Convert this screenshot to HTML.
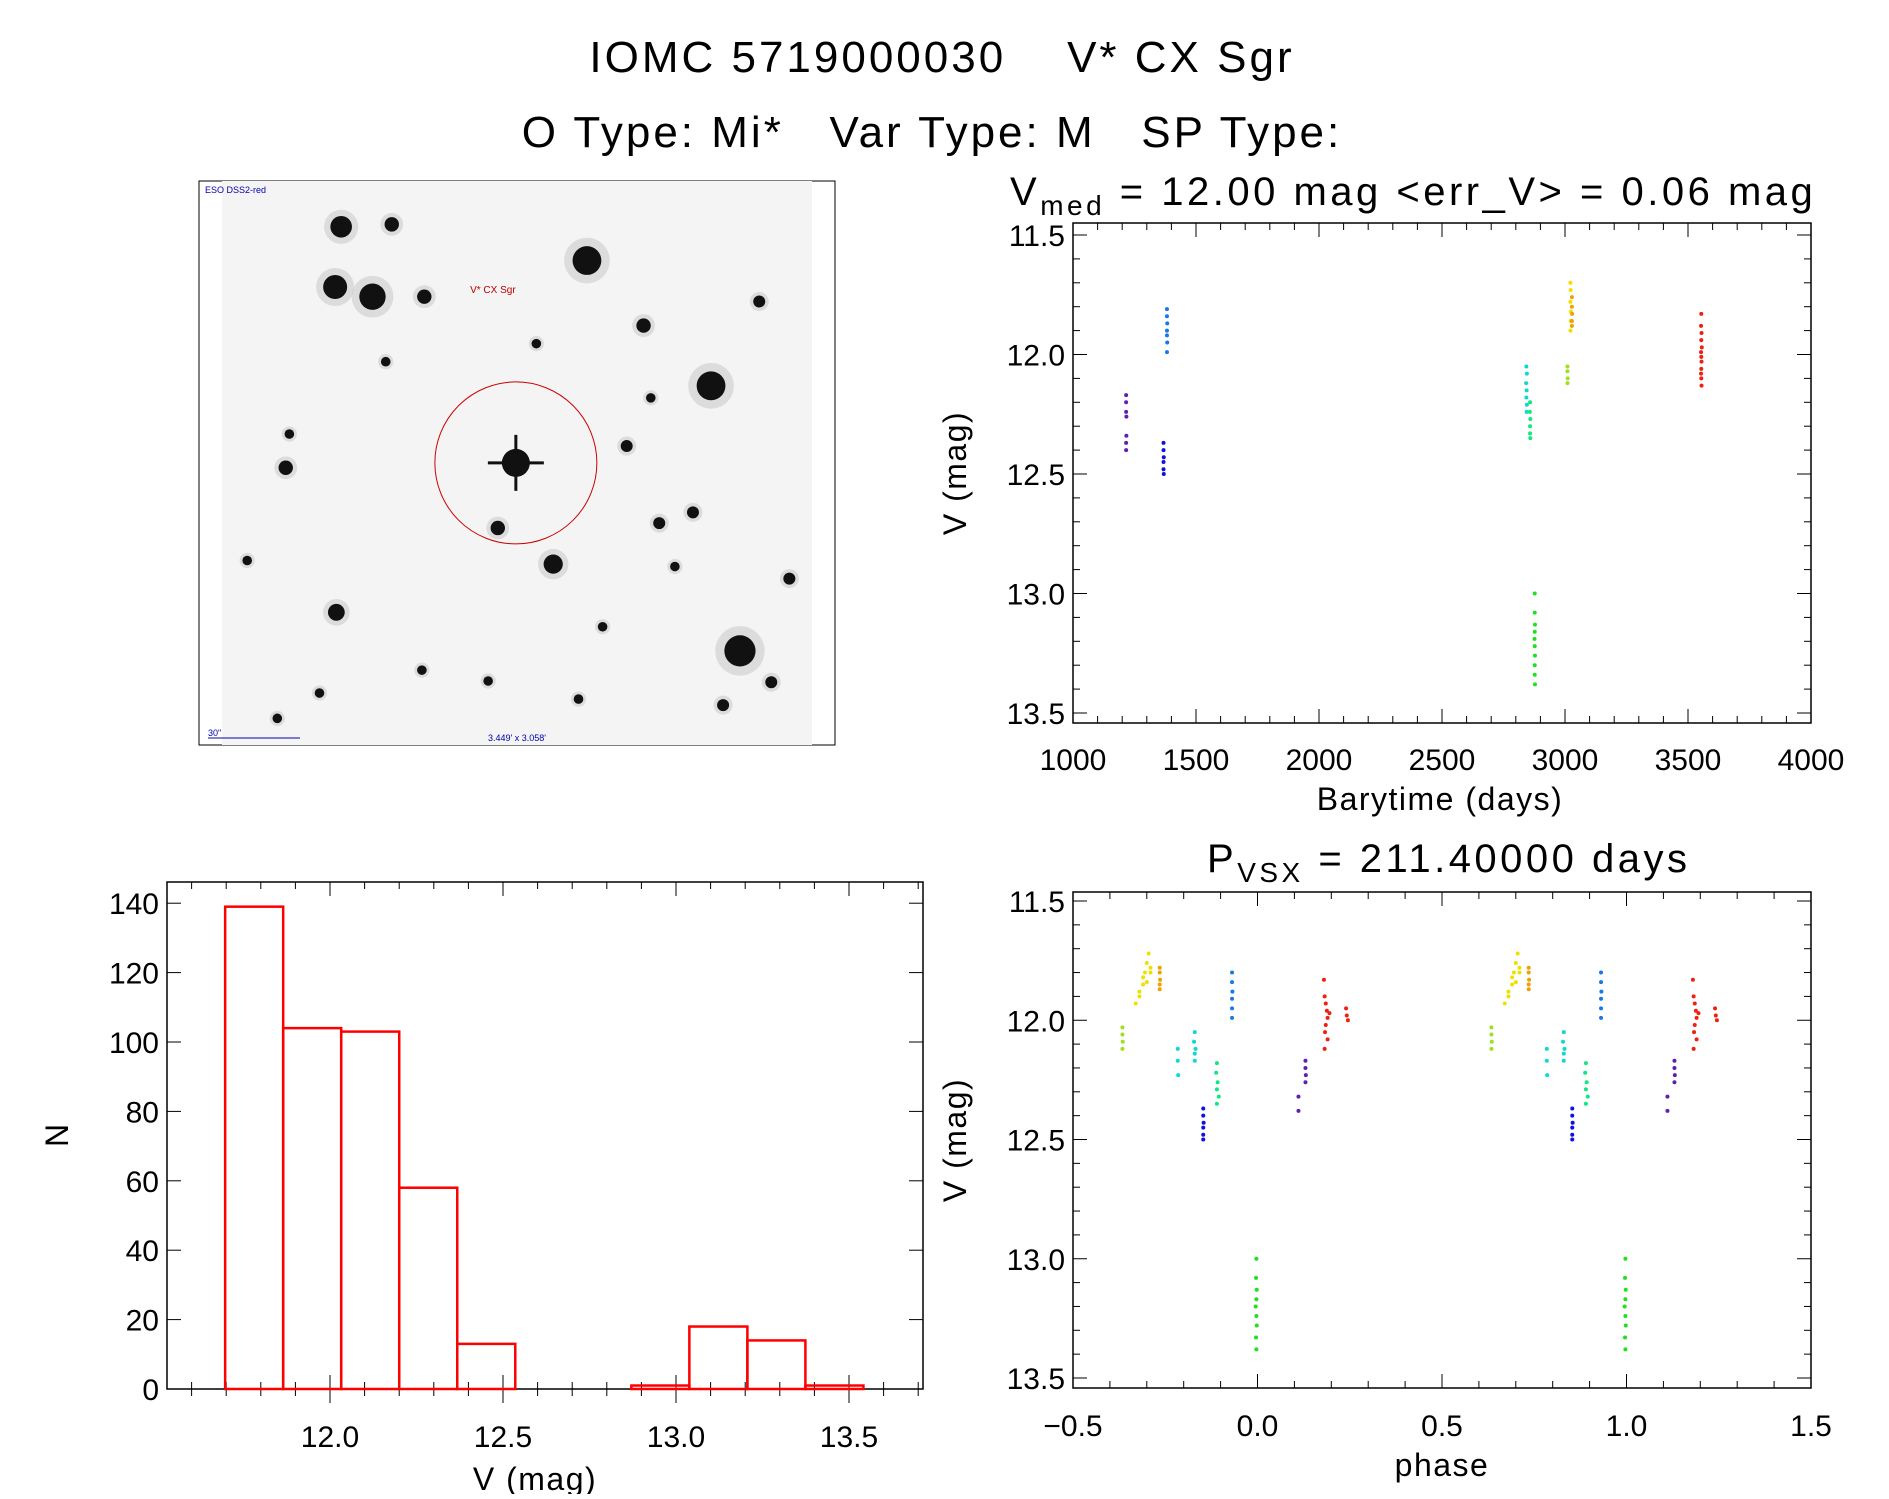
<!DOCTYPE html>
<html><head><meta charset="utf-8"><style>
body{margin:0;background:#fff;}
svg text{font-family:"Liberation Sans",sans-serif;fill:#000;white-space:pre;}
</style></head><body>
<svg id="s" width="1889" height="1494" viewBox="0 0 1889 1494" xmlns="http://www.w3.org/2000/svg">
<text x="942" y="72" font-size="44" text-anchor="middle" letter-spacing="3">IOMC 5719000030    V* CX Sgr</text>
<text x="932" y="147" font-size="44" text-anchor="middle" letter-spacing="3">O Type: Mi*   Var Type: M   SP Type:</text>
<g id="img">
<rect x="199" y="181" width="636" height="564" fill="#fff" stroke="#000" stroke-width="1"/>
<rect x="222" y="181" width="590" height="564" fill="#f4f4f4"/>
</g>
<text x="1010" y="205" font-size="40" letter-spacing="3.5">V<tspan font-size="28" dy="10">med</tspan><tspan dy="-10"> = 12.00 mag &lt;err_V&gt; = 0.06 mag</tspan></text>
<text x="1207" y="872" font-size="40" letter-spacing="3.5">P<tspan font-size="28" dy="10">VSX</tspan><tspan dy="-10"> = 211.40000 days</tspan></text>
<g id="g1"></g><g id="g2"></g><g id="g3"></g>
</svg>
<script>
const NS="http://www.w3.org/2000/svg";
function mk(p,tag,a,txt){const e=document.createElementNS(NS,tag);for(const k in a)e.setAttribute(k,a[k]);if(txt!==undefined)e.textContent=txt;p.appendChild(e);return e;}
const img=document.getElementById('img');
const stars=[[283,188,9],[325,186,6],[278,238,10],[309,246,11],[352,246,6],[487,216,12],[590,320,12],[534,270,6],[459,468,8],[413,438,6],[237,388,6],[279,508,7],[614,540,13],[640,566,5],[547,434,5],[575,425,5],[265,575,4],[350,556,4],[405,565,4],[230,596,4],[520,370,5],[540,330,4],[445,285,4],[630,250,5],[600,585,5],[205,465,4],[320,300,4],[240,360,4],[500,520,4],[480,580,4],[560,470,4],[655,480,5]];
const sx=v=>199+(v-165)*1.2048, sy=v=>181+(v-150)*1.2048;
for(const s of stars){
 mk(img,'circle',{cx:sx(s[0]),cy:sy(s[1]),r:s[2]*1.9,fill:'#ccc',opacity:0.6});
 const c=mk(img,'circle',{cx:sx(s[0]),cy:sy(s[1]),r:s[2]*1.2,fill:'#111'});
 
 }
const tg=mk(img,'circle',{cx:sx(428),cy:sy(384),r:14,fill:'#111'});


mk(img,'path',{d:`M${sx(428)-28} ${sy(384)}h56M${sx(428)} ${sy(384)-28}v56`,stroke:'#111','stroke-width':3});
const ap=mk(img,'circle',{cx:sx(428),cy:sy(384),r:81,fill:'none',stroke:'#c00','stroke-width':1});


mk(img,'text',{x:sx(390),y:sy(243),'font-size':10,style:'fill:#b00'},'V* CX Sgr');
mk(img,'text',{x:205,y:193,'font-size':9,style:'fill:#00a'},'ESO DSS2-red');
mk(img,'path',{d:'M208 738h92',stroke:'#00a'});
mk(img,'text',{x:208,y:736,'font-size':9,style:'fill:#00a'},'30"');
mk(img,'text',{x:488,y:741,'font-size':9,style:'fill:#00a'},'3.449\' x 3.058\'');

const lcGroups=[
 {c:'#6020b0',t:[1216,1216,1216,1217,1217,1216,1216],m:[12.17,12.2,12.24,12.26,12.34,12.37,12.4]},
 {c:'#1878e8',t:[1382,1382,1383,1382,1382,1383,1382],m:[11.81,11.84,11.87,11.9,11.92,11.95,11.99]},
 {c:'#1010e0',t:[1368,1368,1369,1368,1368,1369],m:[12.37,12.4,12.43,12.45,12.48,12.5]},
 {c:'#10d8d0',t:[2843,2845,2842,2844,2843,2845,2844],m:[12.05,12.08,12.12,12.15,12.18,12.21,12.24]},
 {c:'#10e880',t:[2858,2857,2859,2858,2858,2859],m:[12.2,12.24,12.27,12.3,12.33,12.35]},
 {c:'#20e020',t:[2877,2877,2878,2877,2876,2877,2878,2877,2877,2878],m:[13.0,13.08,13.13,13.16,13.19,13.22,13.26,13.3,13.34,13.38]},
 {c:'#a0e020',t:[3010,3010,3011,3010],m:[12.05,12.07,12.1,12.12]},
 {c:'#f0e000',t:[3022,3023,3022,3024,3023,3022],m:[11.7,11.73,11.78,11.82,11.86,11.9]},
 {c:'#f0a000',t:[3028,3028,3029,3028,3028],m:[11.76,11.8,11.83,11.86,11.88]},
 {c:'#f02010',t:[3554,3553,3555,3554,3556,3553,3554,3555,3554,3553,3554,3555],m:[11.83,11.88,11.91,11.94,11.97,11.99,12.01,12.03,12.06,12.08,12.1,12.13]}
];
const phGroups=[
 {c:'#a0e020',p:[-0.366,-0.366,-0.365,-0.366],m:[12.03,12.06,12.09,12.12]},
 {c:'#f0e000',p:[-0.33,-0.32,-0.31,-0.305,-0.3,-0.295,-0.29,-0.31,-0.32,-0.3,-0.29],m:[11.93,11.88,11.85,11.8,11.76,11.72,11.78,11.82,11.9,11.84,11.8]},
 {c:'#f0a000',p:[-0.265,-0.265,-0.264,-0.265,-0.265],m:[11.78,11.8,11.83,11.85,11.87]},
 {c:'#10d8d0',p:[-0.216,-0.216,-0.215,-0.17,-0.172,-0.168,-0.17,-0.17],m:[12.12,12.17,12.23,12.05,12.09,12.12,12.14,12.17]},
 {c:'#10e880',p:[-0.11,-0.112,-0.108,-0.11,-0.105,-0.11],m:[12.18,12.22,12.26,12.29,12.32,12.35]},
 {c:'#1010e0',p:[-0.147,-0.147,-0.146,-0.147,-0.147,-0.147],m:[12.37,12.4,12.43,12.45,12.48,12.5]},
 {c:'#1878e8',p:[-0.069,-0.069,-0.068,-0.069,-0.069,-0.069],m:[11.8,11.84,11.88,11.91,11.95,11.99]},
 {c:'#20e020',p:[-0.003,-0.004,-0.002,-0.003,-0.005,-0.003,-0.002,-0.004,-0.003],m:[13.0,13.08,13.13,13.17,13.2,13.24,13.28,13.33,13.38]},
 {c:'#6020b0',p:[0.111,0.111,0.13,0.13,0.131,0.13],m:[12.32,12.38,12.17,12.2,12.23,12.26]},
 {c:'#f02010',p:[0.18,0.182,0.185,0.188,0.19,0.185,0.183,0.19,0.195,0.182,0.24,0.242,0.245],m:[11.83,11.9,11.93,11.96,11.99,12.02,12.05,12.08,11.97,12.12,11.95,11.98,12.0]}
];
const binEdges0=11.697, binWidth=0.1677;
const counts=[139,104,103,58,13,0,0,1,18,14,1];
const xTicksLC=[1000,1500,2000,2500,3000,3500,4000];
const yTicksMag=[11.5,12.0,12.5,13.0,13.5];
const xTicksPh=[-0.5,0.0,0.5,1.0,1.5];
const xTicksH=[12.0,12.5,13.0,13.5];
const yTicksH=[0,20,40,60,80,100,120,140];

function axesBox(g,L,T,R,B){mk(g,'rect',{x:L,y:T,width:R-L,height:B-T,fill:'none',stroke:'#000','stroke-width':1.5});}
(function(){
 const g=document.getElementById('g1');
 
 
 const L=1073,R=1811,T=223,B=723;
 const X=d=>L+(d-1000)*(R-L)/3000, Y=m=>235+(m-11.5)*239;
 axesBox(g,L,T,R,B);
 for(let d=1000;d<=4000;d+=100){const maj=d%500===0;const x=X(d);
  mk(g,'line',{x1:x,x2:x,y1:B,y2:B-(maj?14:7),stroke:'#000'});mk(g,'line',{x1:x,x2:x,y1:T,y2:T+(maj?14:7),stroke:'#000'});}
 for(const d of xTicksLC){const t=mk(g,'text',{x:X(d),y:B+47,'font-size':30,'text-anchor':'middle'},String(d));
  
  }
 for(let i=0;i<=20;i++){const m=11.5+i*0.1;const maj=i%5===0;const y=Y(m);
  mk(g,'line',{x1:L,x2:L+(maj?14:7),y1:y,y2:y,stroke:'#000'});mk(g,'line',{x1:R,x2:R-(maj?14:7),y1:y,y2:y,stroke:'#000'});}
 for(const m of yTicksMag){const t=mk(g,'text',{x:L-8,y:Y(m)+11,'font-size':30,'text-anchor':'end'},m.toFixed(1));
  
  }
 const xl=mk(g,'text',{x:(L+R)/2-2,y:810,'font-size':32,'text-anchor':'middle','letter-spacing':1.5},'Barytime (days)');
 
 
 const yl=mk(g,'text',{x:0,y:0,'font-size':32,'text-anchor':'middle','letter-spacing':1.5,transform:`translate(966,${(T+B)/2}) rotate(-90)`},'V (mag)');
 
 
 for(const gr of lcGroups){for(let i=0;i<gr.t.length;i++){const c=mk(g,'circle',{cx:X(gr.t[i]),cy:Y(gr.m[i]),r:2,fill:gr.c});
  
  }}
})();
(function(){
 const g=document.getElementById('g2');
 
 
 const L=1073,R=1811,T=892,B=1388;
 const X=p=>L+(p+0.5)*(R-L)/2, Y=m=>901+(m-11.5)*238.5;
 axesBox(g,L,T,R,B);
 for(let i=0;i<=20;i++){const p=-0.5+i*0.1;const maj=i%5===0;const x=X(p);
  mk(g,'line',{x1:x,x2:x,y1:B,y2:B-(maj?14:7),stroke:'#000'});mk(g,'line',{x1:x,x2:x,y1:T,y2:T+(maj?14:7),stroke:'#000'});}
 for(const p of xTicksPh){const t=mk(g,'text',{x:X(p),y:B+48,'font-size':30,'text-anchor':'middle'},(p<0?'\u2212':'')+Math.abs(p).toFixed(1));
  
  }
 for(let i=0;i<=20;i++){const m=11.5+i*0.1;const maj=i%5===0;const y=Y(m);
  mk(g,'line',{x1:L,x2:L+(maj?14:7),y1:y,y2:y,stroke:'#000'});mk(g,'line',{x1:R,x2:R-(maj?14:7),y1:y,y2:y,stroke:'#000'});}
 for(const m of yTicksMag){const t=mk(g,'text',{x:L-8,y:Y(m)+11,'font-size':30,'text-anchor':'end'},m.toFixed(1));
  
  }
 const xl=mk(g,'text',{x:(L+R)/2,y:1476,'font-size':32,'text-anchor':'middle','letter-spacing':1.5},'phase');
 
 
 const yl=mk(g,'text',{x:0,y:0,'font-size':32,'text-anchor':'middle','letter-spacing':1.5,transform:`translate(966,${(T+B)/2}) rotate(-90)`},'V (mag)');
 
 
 for(const gr of phGroups){for(const off of [0,1]){for(let i=0;i<gr.p.length;i++){const c=mk(g,'circle',{cx:X(gr.p[i]+off),cy:Y(gr.m[i]),r:2,fill:gr.c});
  
  }}}
})();
(function(){
 const g=document.getElementById('g3');
 
 
 const L=167,R=923,T=882,B=1389;
 const X=v=>330+(v-12)*346, Y=n=>B-n*3.47;
 axesBox(g,L,T,R,B);
 for(let i=-4;i<=17;i++){const v=12+i*0.1;const x=X(v);if(x<L||x>R)continue;const maj=i%5===0;
  mk(g,'line',{x1:x,x2:x,y1:B,y2:B-(maj?14:7),stroke:'#000'});mk(g,'line',{x1:x,x2:x,y1:B,y2:B+(maj?14:7),stroke:'#000'});mk(g,'line',{x1:x,x2:x,y1:T,y2:T+(maj?14:7),stroke:'#000'});}
 for(const v of xTicksH){const t=mk(g,'text',{x:X(v),y:B+58,'font-size':30,'text-anchor':'middle'},v.toFixed(1));
  
  }
 for(let n=0;n<=140;n+=20){const y=Y(n);
  mk(g,'line',{x1:L,x2:L+14,y1:y,y2:y,stroke:'#000'});mk(g,'line',{x1:R,x2:R-14,y1:y,y2:y,stroke:'#000'});}
 for(const n of yTicksH){const t=mk(g,'text',{x:L-8,y:Y(n)+11,'font-size':30,'text-anchor':'end'},String(n));
  
  }
 const xl=mk(g,'text',{x:(L+R)/2-10,y:1490,'font-size':32,'text-anchor':'middle','letter-spacing':1.5},'V (mag)');
 
 
 const yl=mk(g,'text',{x:0,y:0,'font-size':32,'text-anchor':'middle',transform:`translate(68,${(T+B)/2}) rotate(-90)`},'N');
 
 
 for(let i=0;i<counts.length;i++){const x0=X(binEdges0+i*binWidth),x1=X(binEdges0+(i+1)*binWidth);
  const r=mk(g,'rect',{x:x0,y:Y(counts[i]),width:x1-x0,height:counts[i]*3.47,fill:'none',stroke:'#f00','stroke-width':2.5});
  
  }
})();
</script>
</body></html>
